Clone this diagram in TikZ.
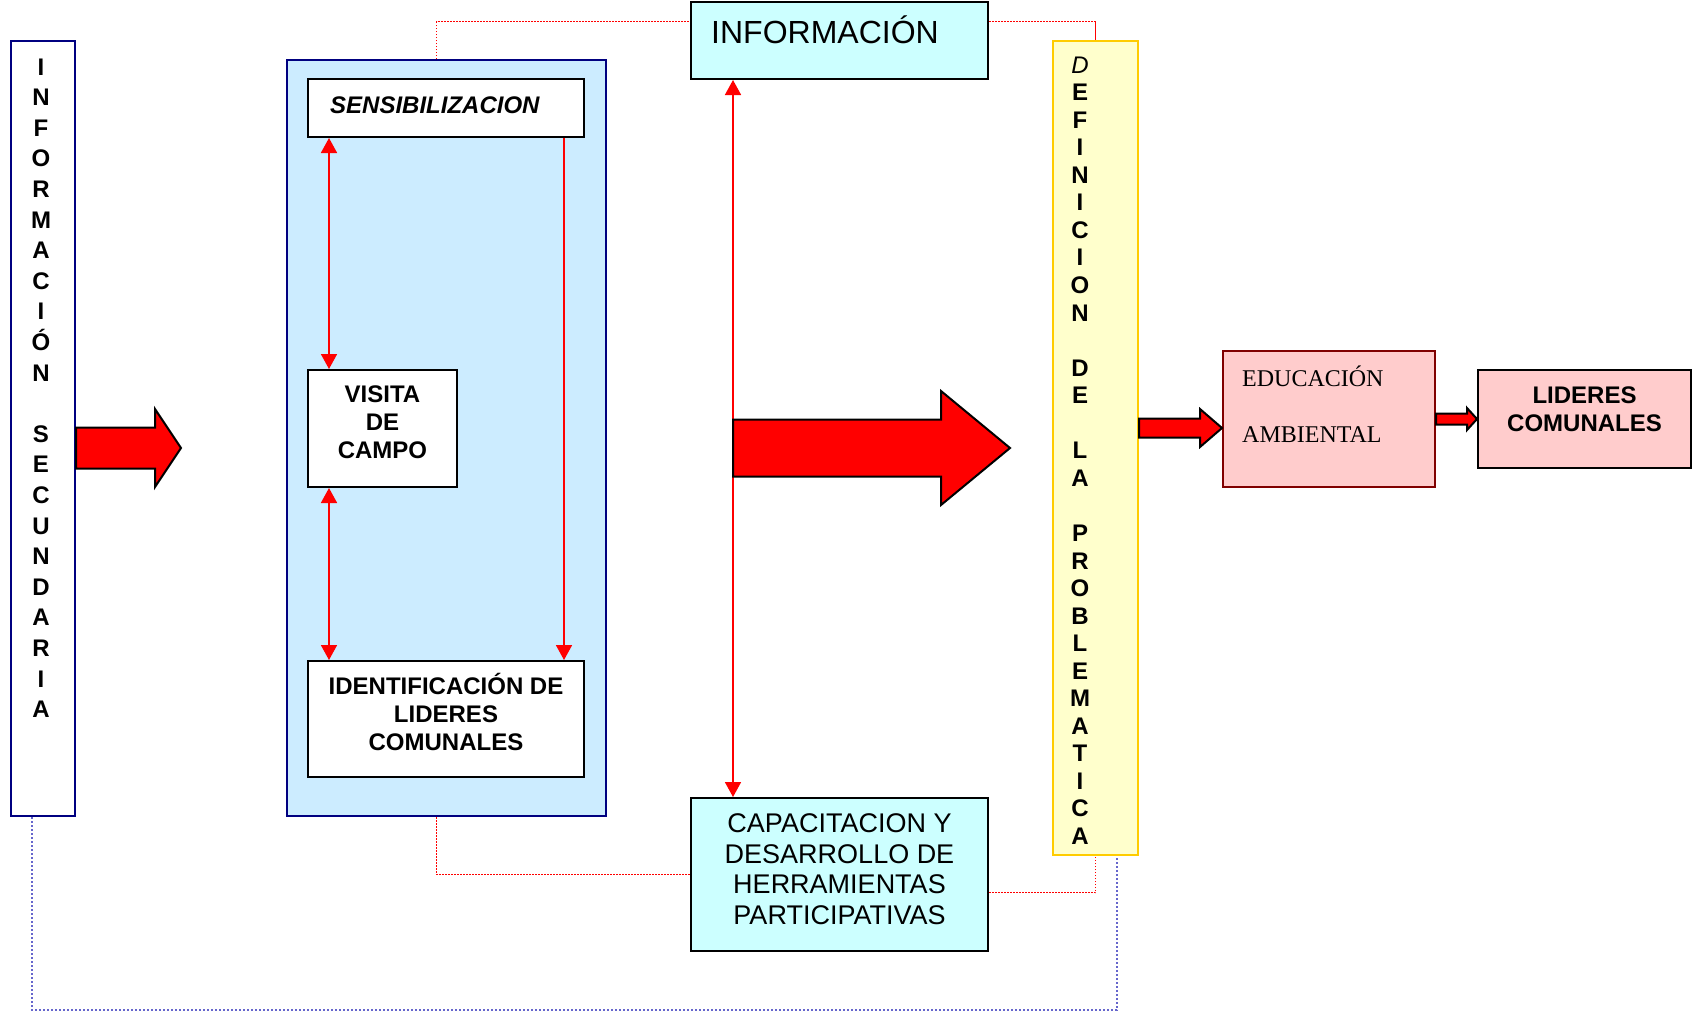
\documentclass[tikz,border=0pt]{standalone}
\usepackage{fontspec}
\setmainfont{Liberation Sans}
\newfontfamily\timesfont{Liberation Serif}
\usetikzlibrary{arrows.meta, calc}
\definecolor{panelblue}{HTML}{CCECFF}
\definecolor{navy}{HTML}{000080}
\definecolor{aqua}{HTML}{CCFFFF}
\definecolor{paleyellow}{HTML}{FFFFCC}
\definecolor{gold}{HTML}{FFCC00}
\definecolor{rosa}{HTML}{FFCCCC}
\definecolor{vino}{HTML}{800000}
\definecolor{dotblue}{HTML}{6666CC}
\tikzset{
    box/.style={rectangle, draw=black, line width=2pt, inner sep=0pt},
    wbox/.style={box, fill=white},
    letters/.style={inner sep=0pt, align=center, font=\fontsize{24}{30.6}\selectfont\bfseries},
    boldtxt/.style={inner sep=0pt, align=center, font=\fontsize{24}{28}\selectfont\bfseries},
    plaintxt/.style={inner sep=0pt, align=center, font=\fontsize{27}{30.6}\selectfont},
    redline/.style={draw=red, line width=1.7pt},
    dblarrow/.style={redline, {Triangle[length=15pt, width=16pt]}-{Triangle[length=15pt, width=16pt]}},
    sglarrow/.style={redline, -{Triangle[length=15pt, width=16pt]}},
    reddot/.style={draw=red, line width=1.5pt, dash pattern=on 1.5pt off 1.5pt},
    bluedot/.style={draw=dotblue, line width=2pt, dash pattern=on 2pt off 2pt},
    blockarrow/.style={fill=red, draw=black, line width=2pt, line join=miter},
}
% start, tip, half shaft, half head, head length
\newcommand{\blockarrow}[5]{%
    \draw[blockarrow] ($#1+(0,-#3)$) -- ($#2+(-#5,-#3)$) -- ($#2+(-#5,-#4)$) -- #2
        -- ($#2+(-#5,#4)$) -- ($#2+(-#5,#3)$) -- ($#1+(0,#3)$) -- cycle;}

\begin{document}
\begin{tikzpicture}[x=1pt, y=-1pt]
    \useasboundingbox (0,0) rectangle (1697,1013);

    % Informacion secundaria
    \node[box, draw=navy, fill=white, minimum width=64pt, minimum height=775pt] (infosec) at (43,428.5) {};
    \node[letters, anchor=north] (infosectxt) at (41,58.4)
        {I\\N\\F\\O\\R\\M\\A\\C\\I\\Ó\\N\\[30.6pt]S\\E\\C\\U\\N\\D\\A\\R\\I\\A};

    % Panel
    \node[box, draw=navy, fill=panelblue, minimum width=319pt, minimum height=756pt] (panel) at (446.5,438) {};
    \node[wbox, minimum width=276pt, minimum height=58pt] (sens) at (446,108) {};
    \node[inner sep=0pt, anchor=west, font=\fontsize{24}{28}\selectfont\bfseries\itshape] (senstxt) at (330,105) {SENSIBILIZACION};
    \node[wbox, minimum width=149pt, minimum height=117pt] (visita) at (382.5,428.5) {};
    \node[boldtxt] (visitatxt) at (382.5,422) {VISITA\\DE\\CAMPO};
    \node[wbox, minimum width=276pt, minimum height=116pt] (ident) at (446,719) {};
    \node[boldtxt] (identtxt) at (446,712) {IDENTIFICACIÓN DE\\LIDERES\\COMUNALES};

    \draw[dblarrow] ($(sens.south west)+(22,0)$) -- ($(visita.north west)+(22,0)$);
    \draw[dblarrow] ($(visita.south west)+(22,0)$) -- ($(ident.north west)+(22,0)$);
    \draw[sglarrow] ($(sens.south east)+(-21,0)$) -- ($(ident.north east)+(-21,0)$);

    % Informacion / capacitacion
    \node[box, fill=aqua, minimum width=297pt, minimum height=77pt] (info) at (839.5,40.5) {};
    \node[inner sep=0pt, anchor=west, font=\fontsize{32}{36}\selectfont] (infotxt) at (711,30) {INFORMACIÓN};
    \node[box, fill=aqua, minimum width=297pt, minimum height=153pt] (capac) at (839.5,874.5) {};
    \node[plaintxt] (capactxt) at (839.5,869) {CAPACITACION Y\\DESARROLLO DE\\HERRAMIENTAS\\PARTICIPATIVAS};
    \coordinate (ix) at ($(info.south west)+(43,0)$);
    \draw[dblarrow] (ix) -- ($(capac.north west)+(43,0)$);

    % Definicion de la problematica
    \node[box, draw=gold, fill=paleyellow, minimum width=85pt, minimum height=814pt] (probl) at (1095.5,448) {};
    \node[letters, font=\fontsize{24}{27.55}\selectfont\bfseries, anchor=north] (probltxt) at (1080,56.4)
        {{\mdseries\itshape D}\\E\\F\\I\\N\\I\\C\\I\\O\\N\\[27.55pt]D\\E\\[27.55pt]L\\A\\[27.55pt]P\\R\\O\\B\\L\\E\\M\\A\\T\\I\\C\\A};

    % Educacion ambiental, lideres
    \node[box, draw=vino, fill=rosa, minimum width=212pt, minimum height=136pt] (edu) at (1329,419) {};
    \node[inner sep=0pt, align=left, anchor=north west, font=\timesfont\fontsize{24}{56}\selectfont] (edutxt) at (1242,366)
        {EDUCACIÓN\\AMBIENTAL};
    \node[box, fill=rosa, minimum width=213pt, minimum height=98pt] (lid) at (1584.5,419) {};
    \node[boldtxt] (lidtxt) at (1584.5,409) {LIDERES\\COMUNALES};

    % Dotted links
    \draw[reddot] ($(panel.north)+(-10,0)$) |- ($(info.west)+(0,-19)$);
    \coordinate (ytop) at ($(info.east)+(0,-19)$);
    \draw[reddot] (ytop) -- (probl.north |- ytop);
    \draw[redline] (probl.north |- ytop) -- (probl.north);
    \draw[reddot] ($(panel.south)+(-10,0)$) |- (capac.west);
    \draw[reddot] ($(capac.east)+(0,18)$) -| (probl.south);
    \draw[bluedot] ($(infosec.south)+(-11,0)$) -- ++(0,193) -| ($(probl.south)+(21,0)$);

    % Block arrows
    \coordinate (a1) at (181,448);
    \coordinate (a2) at (1010,448);
    \coordinate (a3) at ($(edu.west)+(0,9)$);
    \blockarrow{(infosec.east |- a1)}{(a1)}{20.5}{39}{26}
    \blockarrow{(ix |- a2)}{(a2)}{28.5}{57}{69}
    \blockarrow{(probl.east |- a3)}{(a3)}{9.5}{19}{22}
    \blockarrow{(edu.east)}{(lid.west)}{5.5}{11}{10}
\end{tikzpicture}
\end{document}
